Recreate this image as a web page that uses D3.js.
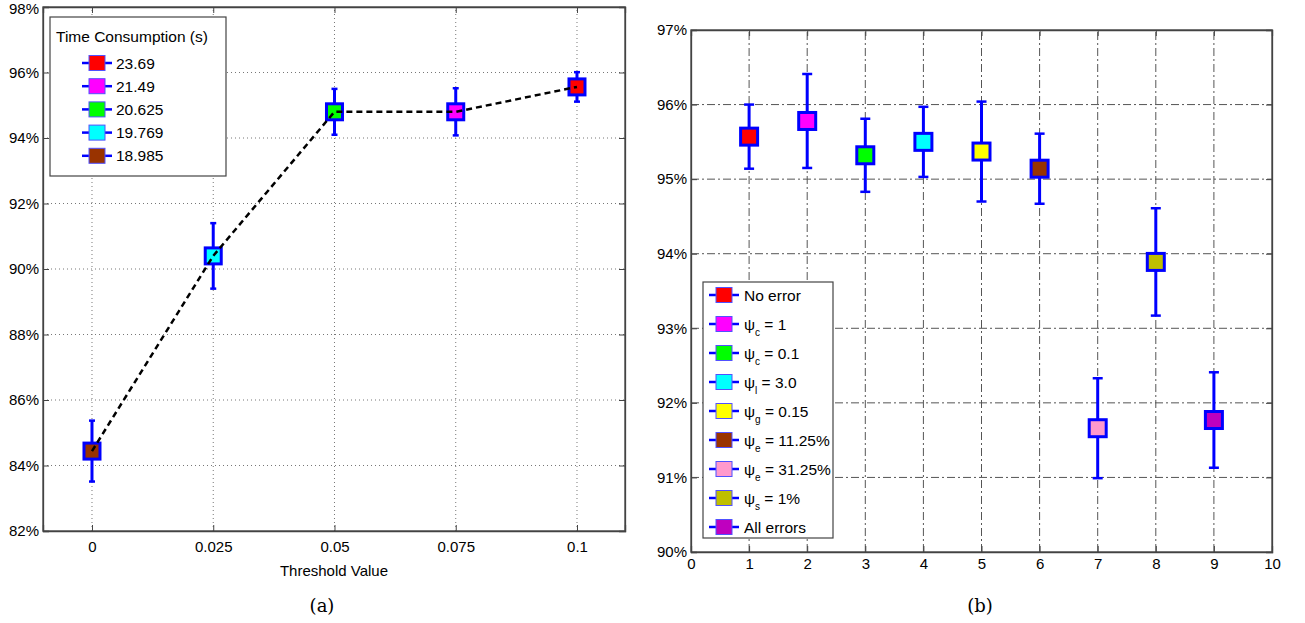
<!DOCTYPE html>
<html>
<head>
<meta charset="utf-8">
<script src="https://cdn.jsdelivr.net/npm/d3@7"></script>
<style>
  body { margin: 0; background: #fff; }
  svg text { font-family: "Liberation Sans", Arial, sans-serif; fill: #000; }
  .caption { font-family: "DejaVu Serif", "Liberation Serif", serif; }
</style>
</head>
<body>
<div id="figure"></div>
<script>
// ---- data ----

// panel (a): accuracy vs threshold
const thresholds = [0, 0.025, 0.05, 0.075, 0.1];
const accA = [84.44, 90.40, 94.80, 94.80, 95.56];
const errA = [0.93, 1.00, 0.70, 0.72, 0.45];
const timeA = ["18.985", "19.769", "20.625", "21.49", "23.69"];
const legendTimes = ["23.69", "21.49", "20.625", "19.769", "18.985"];
const xTicksA = [0, 0.025, 0.05, 0.075, 0.1];
const yTicksA = [82, 84, 86, 88, 90, 92, 94, 96, 98];

// panel (b): accuracy per error case
const cases = [1, 2, 3, 4, 5, 6, 7, 8, 9];
const accB = [95.57, 95.78, 95.32, 95.50, 95.37, 95.14, 91.66, 93.89, 91.77];
const errB = [0.43, 0.63, 0.49, 0.47, 0.67, 0.47, 0.67, 0.72, 0.64];
// legend labels: [symbol/text, subscript, rest]
const caseNames = [
  ["No error", "", ""],
  ["\u03c8", "c", " = 1"],
  ["\u03c8", "c", " = 0.1"],
  ["\u03c8", "l", " = 3.0"],
  ["\u03c8", "g", " = 0.15"],
  ["\u03c8", "e", " = 11.25%"],
  ["\u03c8", "e", " = 31.25%"],
  ["\u03c8", "s", " = 1%"],
  ["All errors", "", ""]
];
const xTicksB = d3.range(0, 11);
const yTicksB = [90, 91, 92, 93, 94, 95, 96, 97];

// marker fill colours
const palette = ["#ff0000", "#ff00ff", "#00ff00", "#00ffff", "#ffff00",
                 "#993300", "#ff99cc", "#bfbf00", "#bf00bf"];

// ---- setup ----
const width = 1305;
const height = 623;
const blue = "#0000ff";
const axisColor = "#444";
const fontSize = "15px";

const svg = d3.select("#figure")
  .append("svg")
  .attr("width", width)
  .attr("height", height);

// colour of each time value in panel (a)
const timeColor = d3.scaleOrdinal()
  .domain(legendTimes)
  .range(["#ff0000", "#ff00ff", "#00ff00", "#00ffff", "#993300"]);

// draws a boxed matlab-like axis frame with inward ticks on all four sides
function drawFrame(g, x, y, xTicks, yTicks, xFmt, yFmt, gridDash, gridColor, xLabelGap) {
  const [x0, x1] = x.range();
  const [y0, y1] = y.range(); // y0 bottom, y1 top

  // grid
  g.append("g")
    .selectAll("line")
    .data(xTicks.filter(t => x(t) > x0 + 1 && x(t) < x1 - 1))
    .join("line")
      .attr("x1", d => x(d)).attr("x2", d => x(d))
      .attr("y1", y0).attr("y2", y1)
      .attr("stroke", gridColor)
      .attr("stroke-width", 1)
      .attr("stroke-dasharray", gridDash);
  g.append("g")
    .selectAll("line")
    .data(yTicks.filter(t => y(t) < y0 - 1 && y(t) > y1 + 1))
    .join("line")
      .attr("x1", x0).attr("x2", x1)
      .attr("y1", d => y(d)).attr("y2", d => y(d))
      .attr("stroke", gridColor)
      .attr("stroke-width", 1)
      .attr("stroke-dasharray", gridDash);

  // axes (ticks point inward)
  const bottom = g.append("g")
    .attr("transform", `translate(0,${y0})`)
    .call(d3.axisBottom(x).tickValues(xTicks).tickFormat(xFmt).tickSize(-6).tickPadding(xLabelGap));
  const top = g.append("g")
    .attr("transform", `translate(0,${y1})`)
    .call(d3.axisTop(x).tickValues(xTicks).tickFormat("").tickSize(-6));
  const left = g.append("g")
    .attr("transform", `translate(${x0},0)`)
    .call(d3.axisLeft(y).tickValues(yTicks).tickFormat(yFmt).tickSize(-6).tickPadding(4));
  const right = g.append("g")
    .attr("transform", `translate(${x1},0)`)
    .call(d3.axisRight(y).tickValues(yTicks).tickFormat("").tickSize(-6));

  [bottom, top, left, right].forEach(a => {
    a.select(".domain").attr("stroke", axisColor).attr("stroke-width", 1.3);
    a.selectAll(".tick line").attr("stroke", axisColor);
    a.selectAll("text").attr("font-size", fontSize).attr("fill", "#000")
      .attr("font-family", "'Liberation Sans', Arial, sans-serif");
  });
  // keep the top label inside the page
  left.selectAll(".tick text").filter(d => y(d) < 12).attr("dy", "0.45em");

  // frame on top
  g.append("rect")
    .attr("x", x0).attr("y", y1)
    .attr("width", x1 - x0).attr("height", y0 - y1)
    .attr("fill", "none")
    .attr("stroke", axisColor)
    .attr("stroke-width", 1.3);
}

// draws error bars, returns the points
function drawPoints(g, xs, ys, errs, fills, x, y, cap) {
  const pts = xs.map((d, i) => ({x: d, y: ys[i], e: errs[i], c: fills[i]}));

  const bars = g.append("g").selectAll("g").data(pts).join("g");
  bars.append("line")
    .attr("x1", d => x(d.x)).attr("x2", d => x(d.x))
    .attr("y1", d => y(d.y + d.e)).attr("y2", d => y(d.y - d.e))
    .attr("stroke", blue).attr("stroke-width", 3);
  bars.append("line")
    .attr("x1", d => x(d.x) - cap / 2).attr("x2", d => x(d.x) + cap / 2)
    .attr("y1", d => y(d.y + d.e)).attr("y2", d => y(d.y + d.e))
    .attr("stroke", blue).attr("stroke-width", 2.5);
  bars.append("line")
    .attr("x1", d => x(d.x) - cap / 2).attr("x2", d => x(d.x) + cap / 2)
    .attr("y1", d => y(d.y - d.e)).attr("y2", d => y(d.y - d.e))
    .attr("stroke", blue).attr("stroke-width", 2.5);
  return pts;
}

function drawMarkers(g, pts, x, y, box) {
  g.append("g").selectAll("rect").data(pts).join("rect")
    .attr("x", d => x(d.x) - box / 2)
    .attr("y", d => y(d.y) - box / 2)
    .attr("width", box).attr("height", box)
    .attr("fill", d => d.c)
    .attr("stroke", blue)
    .attr("stroke-width", 3);
}

function legendMarker(g, cx, cy, fill) {
  g.append("line")
    .attr("x1", cx - 15).attr("x2", cx + 15)
    .attr("y1", cy).attr("y2", cy)
    .attr("stroke", blue).attr("stroke-width", 2.5);
  g.append("rect")
    .attr("x", cx - 8).attr("y", cy - 7.5)
    .attr("width", 16).attr("height", 15)
    .attr("fill", fill)
    .attr("stroke", "#5050ff")
    .attr("stroke-width", 1);
}

/*
  Panel (a)
*/
const xA = d3.scaleLinear().domain([-0.0101, 0.1099]).range([43, 625]);
const yA = d3.scaleLinear().domain([82, 98]).range([531, 7]);
const gA = svg.append("g");

drawFrame(gA, xA, yA, xTicksA, yTicksA,
  d => (d === 0 ? "0" : String(d)),
  d => d + "%",
  "1,3", "#777", 10);

const ptsA = drawPoints(gA, thresholds, accA, errA, timeA.map(t => timeColor(t)), xA, yA, 6);
drawMarkers(gA, ptsA, xA, yA, 16);

// dashed trend line through the centres
gA.append("path")
  .datum(ptsA)
  .attr("fill", "none")
  .attr("stroke", "#000")
  .attr("stroke-width", 2.5)
  .attr("stroke-dasharray", "6,4")
  .attr("d", d3.line().x(d => xA(d.x)).y(d => yA(d.y)));

gA.append("text")
  .attr("x", 334).attr("y", 576)
  .attr("text-anchor", "middle")
  .attr("font-size", fontSize)
  .text("Threshold Value");

// legend (a)
const legA = gA.append("g");
legA.append("rect")
  .attr("x", 50).attr("y", 17).attr("width", 176).attr("height", 159)
  .attr("fill", "#fff").attr("stroke", axisColor).attr("stroke-width", 1.2);
legA.append("text")
  .attr("x", 56).attr("y", 42)
  .attr("font-size", "15.5px")
  .text("Time Consumption (s)");
legendTimes.forEach((t, i) => {
  const cy = 63 + i * 23.2;
  legendMarker(legA, 97, cy, timeColor(t));
  legA.append("text")
    .attr("x", 116).attr("y", cy + 5.5)
    .attr("font-size", "15.5px")
    .text(t);
});

svg.append("text")
  .attr("class", "caption")
  .attr("x", 322).attr("y", 612)
  .attr("text-anchor", "middle")
  .attr("font-size", "18px")
  .text("(a)");

/*
  Panel (b)
*/
const xB = d3.scaleLinear().domain([0, 10]).range([691, 1272]);
const yB = d3.scaleLinear().domain([90, 97]).range([552, 30]);
const gB = svg.append("g");

drawFrame(gB, xB, yB, xTicksB, yTicksB,
  d => String(d),
  d => d + "%",
  "8,3,2,3", "#555", 6);

const ptsB = drawPoints(gB, cases, accB, errB, palette, xB, yB, 10);
drawMarkers(gB, ptsB, xB, yB, 17);

// legend (b)
const legB = gB.append("g");
legB.append("rect")
  .attr("x", 703).attr("y", 282).attr("width", 130).attr("height", 256)
  .attr("fill", "#fff").attr("stroke", axisColor).attr("stroke-width", 1.2);
caseNames.forEach((n, i) => {
  const cy = 295 + i * 29;
  legendMarker(legB, 724, cy, palette[i]);
  const t = legB.append("text")
    .attr("x", 744).attr("y", cy + 5.5)
    .attr("font-size", "15.5px");
  t.append("tspan").text(n[0]);
  if (n[1]) {
    t.append("tspan").attr("dy", 6).attr("font-size", "10px").text(n[1]);
    t.append("tspan").attr("dy", -6).text(n[2]);
  }
});

svg.append("text")
  .attr("class", "caption")
  .attr("x", 980).attr("y", 612)
  .attr("text-anchor", "middle")
  .attr("font-size", "18px")
  .text("(b)");
</script>
</body>
</html>
